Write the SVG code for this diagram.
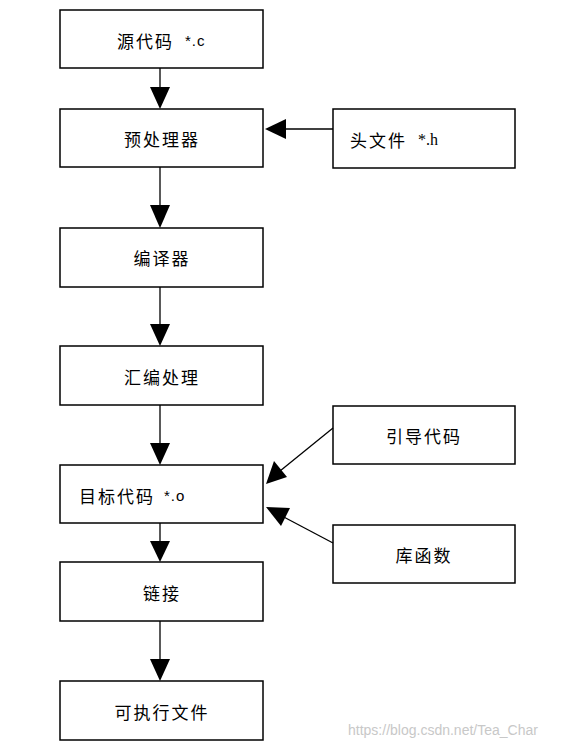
<svg xmlns="http://www.w3.org/2000/svg" width="577" height="750" viewBox="0 0 577 750">
<style>
.box{fill:#fff;stroke:#000;stroke-width:1.5}
.t{font-family:"Noto Sans CJK SC","Liberation Sans",sans-serif;font-size:17px;fill:#000;dominant-baseline:central;letter-spacing:2px}
.c{text-anchor:middle}
.a{font-family:"Liberation Sans",sans-serif;font-size:15px;letter-spacing:1px}
.s{font-family:"Liberation Serif",serif;font-size:16px;letter-spacing:0}
.ln{stroke:#000;stroke-width:1.3;fill:none}
.hd{fill:#000}
</style>
<rect width="577" height="750" fill="#fff"/>
<g id="n1"><rect class="box" x="60" y="10" width="203" height="58"/><text class="t" x="117" y="40">源代码<tspan class="a" x="185">*.c</tspan></text></g>
<g id="n2"><rect class="box" x="60" y="109" width="203" height="58"/><text class="t c" x="162" y="138">预处理器</text></g>
<g id="n3"><rect class="box" x="60" y="228" width="203" height="59"/><text class="t c" x="162" y="257">编译器</text></g>
<g id="n4"><rect class="box" x="60" y="346" width="203" height="59"/><text class="t c" x="162" y="376">汇编处理</text></g>
<g id="n5"><rect class="box" x="60" y="465" width="203" height="58"/><text class="t" x="79" y="495">目标代码<tspan class="a" x="164">*.o</tspan></text></g>
<g id="n6"><rect class="box" x="60" y="562" width="203" height="59"/><text class="t c" x="162" y="592">链接</text></g>
<g id="n7"><rect class="box" x="60" y="681" width="203" height="59"/><text class="t c" x="162" y="711">可执行文件</text></g>
<g id="h"><rect class="box" x="333" y="109" width="182" height="59"/><text class="t" x="350" y="139">头文件<tspan class="s" x="418">*.h</tspan></text></g>
<g id="boot"><rect class="box" x="333" y="406" width="182" height="58"/><text class="t c" x="424" y="435">引导代码</text></g>
<g id="lib"><rect class="box" x="333" y="525" width="182" height="58"/><text class="t c" x="424" y="554">库函数</text></g>
<g id="edges">
<line class="ln" x1="160" y1="68" x2="160" y2="90"/><polygon class="hd" points="150,87 170,87 160,109"/>
<line class="ln" x1="160" y1="167" x2="160" y2="208"/><polygon class="hd" points="150,205 170,205 160,228"/>
<line class="ln" x1="160" y1="287" x2="160" y2="327"/><polygon class="hd" points="150,324 170,324 160,346"/>
<line class="ln" x1="160" y1="405" x2="160" y2="446"/><polygon class="hd" points="150,443 170,443 160,465"/>
<line class="ln" x1="160" y1="523" x2="160" y2="544"/><polygon class="hd" points="150,541 170,541 160,562"/>
<line class="ln" x1="160" y1="621" x2="160" y2="662"/><polygon class="hd" points="150,659 170,659 160,681"/>
<line class="ln" x1="333" y1="129" x2="283" y2="129"/><polygon class="hd" points="265,129 286,119 286,139"/>
<line class="ln" x1="333" y1="428" x2="280" y2="471"/><polygon class="hd" points="266,484 274,461 287,477"/>
<line class="ln" x1="333" y1="543" x2="280" y2="515"/><polygon class="hd" points="266,507 290,508 281,526"/>
</g>
<text x="348" y="735" font-family="Liberation Sans,sans-serif" font-size="14" fill="#c8c8c8">https://blog.csdn.net/Tea_Char</text>
</svg>
